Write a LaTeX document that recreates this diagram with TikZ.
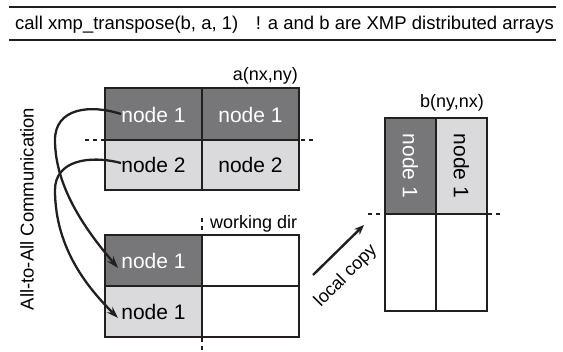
\documentclass[tikz,border=0pt]{standalone}
\usepackage{fontspec}
\setmainfont{Liberation Sans}
\usetikzlibrary{arrows.meta}
\definecolor{darkcell}{HTML}{77777A}
\definecolor{lightcell}{HTML}{DADADC}
\definecolor{ink}{HTML}{231F20}
\begin{document}
\begin{tikzpicture}[x=1pt,y=-1pt,
  cell/.style={draw=ink,line width=1.2pt},
  dcell/.style={cell,fill=darkcell},
  lcell/.style={cell,fill=lightcell},
  wcell/.style={cell,fill=white},
  nodetxt/.style={font=\fontsize{21}{24}\selectfont,inner sep=0pt},
  lbl/.style={font=\fontsize{18}{21}\selectfont,inner sep=0pt},
  sep/.style={draw=ink,line width=2.6pt,dash pattern=on 4pt off 4pt},
  rule/.style={draw=ink,line width=1.4pt},
  comm/.style={draw=ink,line width=2.3pt,-{Stealth[length=12pt,width=8pt]}}]
\useasboundingbox (0,0) rectangle (563,352);
% header
\coordinate (r1a) at (9,7); \coordinate (r1b) at (556,7);
\coordinate (r2a) at (9,40); \coordinate (r2b) at (556,40);
\draw[rule] (r1a) -- (r1b);
\draw[rule] (r2a) -- (r2b);
\node[anchor=base west,font=\fontsize{18.5}{21}\selectfont,inner sep=0pt] (call) at (15,30) {call xmp\_transpose(b, a, 1)};
\node[anchor=base east,font=\fontsize{18.5}{21}\selectfont,inner sep=0pt] (cmt) at (554,30) {! a and b are XMP distributed arrays};
% array a
\path[dcell] (105,88) rectangle (202,140);
\path[dcell] (202,88) rectangle (299,140);
\path[lcell] (105,140) rectangle (202,190);
\path[lcell] (202,140) rectangle (299,190);
\node[nodetxt,text=white] (a11) at (153.5,115) {node 1};
\node[nodetxt,text=white] (a12) at (250.5,115) {node 1};
\node[nodetxt] (a21) at (153.5,165) {node 2};
\node[nodetxt] (a22) at (250.5,165) {node 2};
\node[lbl,anchor=base east] (alab) at (298,81) {a(nx,ny)};
\coordinate (asa) at (85,140); \coordinate (asb) at (313,140);
\draw[sep] (asa) -- (asb);
% working dir
\path[dcell] (105,235) rectangle (202,286);
\path[wcell] (202,235) rectangle (299,286);
\path[lcell] (105,286) rectangle (202,337);
\path[wcell] (202,286) rectangle (299,337);
\node[nodetxt,text=white] (w1) at (153.5,261) {node 1};
\node[nodetxt] (w2) at (153.5,312) {node 1};
\coordinate (wsa) at (202,218); \coordinate (wsb) at (202,352);
\draw[sep,line width=2.4pt] (wsa) -- (wsb);
\node[lbl,anchor=base west] (wlab) at (210,229) {working dir};
% array b
\path[dcell] (385,118) rectangle (436,214);
\path[lcell] (436,118) rectangle (487,214);
\path[wcell] (385,214) rectangle (436,311);
\path[wcell] (436,214) rectangle (487,311);
\node[nodetxt,text=white,rotate=-90] (b1) at (410.5,166) {node 1};
\node[nodetxt,rotate=-90] (b2) at (461.5,166) {node 1};
\node[lbl,anchor=base] (blab) at (452,108) {b(ny,nx)};
\coordinate (bsa) at (368,214); \coordinate (bsb) at (503,214);
\draw[sep] (bsa) -- (bsb);
% local copy
\coordinate (lca) at (313,275); \coordinate (lcb) at (364,225);
\draw[draw=ink,line width=2.4pt,-{Stealth[length=10pt,width=8pt]}] (lca) -- (lcb);
\node[lbl,rotate=45] (lc) at (346,276) {local copy};
% all-to-all
\node[font=\fontsize{18.5}{21}\selectfont,inner sep=0pt,rotate=90] (ata) at (27,209) {All-to-All Communication};
% curves
\coordinate (c1s) at (121,114); \coordinate (c1m) at (55,140); \coordinate (c1e) at (118,268);
\coordinate (c2s) at (121,163); \coordinate (c2m) at (55,190); \coordinate (c2e) at (118,318);
\draw[comm] (c1s) .. controls (90,104) and (55,108) .. (c1m) .. controls (55,190) and (90,235) .. (c1e);
\draw[comm] (c2s) .. controls (90,155) and (55,160) .. (c2m) .. controls (55,250) and (90,290) .. (c2e);
\end{tikzpicture}
\end{document}
